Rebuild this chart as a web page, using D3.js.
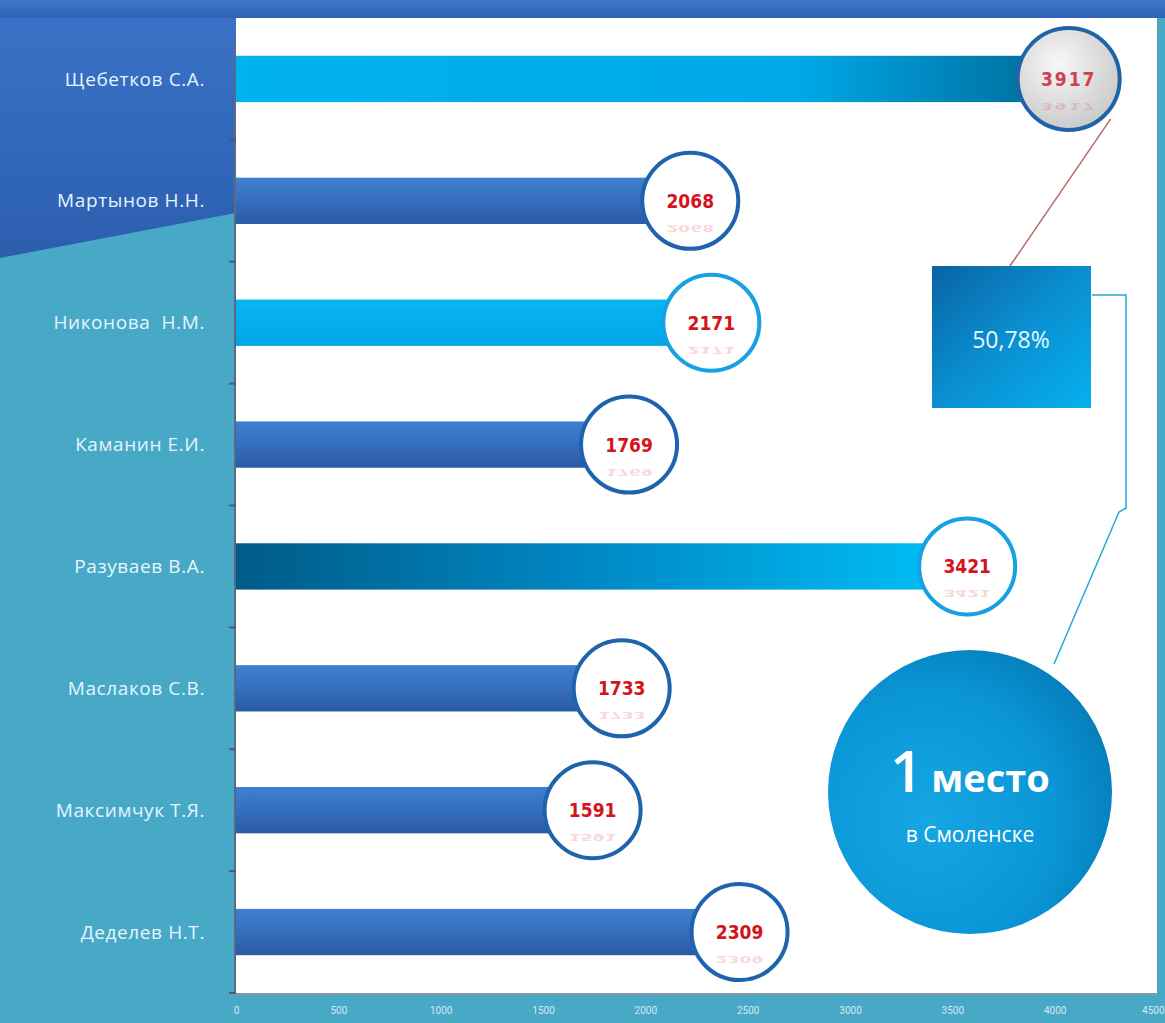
<!DOCTYPE html>
<html>
<head>
<meta charset="utf-8">
<script src="https://cdn.jsdelivr.net/npm/d3@7"></script>
<style>
  body { margin: 0; background: #47a9c6; }
  svg { display: block; }
</style>
</head>
<body>
<svg width="1165" height="1023"></svg>
<script>
// Data
const names = ['Щебетков С.А.', 'Мартынов Н.Н.', 'Никонова  Н.М.', 'Каманин Е.И.',
               'Разуваев В.А.', 'Маслаков С.В.', 'Максимчук Т.Я.', 'Деделев Н.Т.'];
const values = [3917, 2068, 2171, 1769, 3421, 1733, 1591, 2309];
const xTicks = [0, 500, 1000, 1500, 2000, 2500, 3000, 3500, 4000, 4500];
const shareText = '50,78%';

// Bar look, by row
const barKind = ['cyanDark', 'blue', 'cyan', 'blue', 'teal', 'blue', 'blue', 'blue'];

const svg = d3.select('svg');
const width = +svg.attr('width');
const height = +svg.attr('height');

const plot = { left: 236, right: 1157, top: 18, bottom: 993 };

const defs = svg.append('defs');

function linear(id, x2, y2, stops) {
    const gr = defs.append('linearGradient').attr('id', id)
        .attr('x1', 0).attr('y1', 0).attr('x2', x2).attr('y2', y2);
    stops.forEach(s => gr.append('stop').attr('offset', s[0]).attr('stop-color', s[1]));
}
linear('gBlue', 0, 1, [[0, '#3f80d0'], [0.5, '#356fbe'], [1, '#2a5aa3']]);
linear('gCyanDark', 1, 0, [[0, '#00b2ee'], [0.7, '#00a8e8'], [1, '#00709f']]);
linear('gCyan', 0, 1, [[0, '#0ab6f2'], [1, '#00a4e4']]);
linear('gTeal', 1, 0, [[0, '#005b88'], [0.5, '#0088c4'], [1, '#00bcf4']]);
linear('gBox', 1, 1, [[0, '#0a63a3'], [0.5, '#0a8fd0'], [1, '#06b0f0']]);
linear('gTop', 0, 1, [[0, '#3b78cc'], [1, '#2f62b2']]);
linear('gPanel', 0, 1, [[0, '#3a74c8'], [1, '#2c5eae']]);
const rg = defs.append('radialGradient').attr('id', 'gGrey').attr('cx', 0.4).attr('cy', 0.35).attr('r', 0.7);
rg.append('stop').attr('offset', 0).attr('stop-color', '#f7f7f7');
rg.append('stop').attr('offset', 1).attr('stop-color', '#c8c8c8');
const rb = defs.append('radialGradient').attr('id', 'gBig').attr('cx', 0.35).attr('cy', 0.6).attr('r', 0.75);
rb.append('stop').attr('offset', 0).attr('stop-color', '#16a6e4');
rb.append('stop').attr('offset', 0.6).attr('stop-color', '#0a96d6');
rb.append('stop').attr('offset', 1).attr('stop-color', '#0478b4');

const fills = { blue: 'url(#gBlue)', cyanDark: 'url(#gCyanDark)', cyan: 'url(#gCyan)', teal: 'url(#gTeal)' };
const rings = { blue: '#1f63ad', cyanDark: '#2064a8', cyan: '#16a2e2', teal: '#16a2e2' };

// Background pieces
svg.append('rect').attr('width', width).attr('height', height).attr('fill', '#47a9c6');
svg.append('path')
    .attr('d', `M0,0 H${plot.left} V213 L0,258 Z`)
    .attr('fill', 'url(#gPanel)');
svg.append('rect').attr('x', 0).attr('y', 0).attr('width', width).attr('height', plot.top)
    .attr('fill', 'url(#gTop)');
svg.append('rect')
    .attr('x', plot.left).attr('y', plot.top)
    .attr('width', plot.right - plot.left).attr('height', plot.bottom - plot.top)
    .attr('fill', '#ffffff');

// Scales
const xScale = d3.scaleLinear().domain([0, 4500]).range([plot.left, plot.right]);
const yScale = d3.scaleBand().domain(names).range([plot.top, plot.bottom])
    .paddingInner(0.62).paddingOuter(0.31);

// Axis lines and ticks
svg.append('line').attr('x1', plot.left - 1).attr('x2', plot.left - 1)
    .attr('y1', plot.top + 20).attr('y2', plot.bottom + 2)
    .attr('stroke', '#5a6a86').attr('stroke-width', 2);
svg.append('line').attr('x1', plot.left - 2).attr('x2', plot.right)
    .attr('y1', plot.bottom + 1).attr('y2', plot.bottom + 1)
    .attr('stroke', '#8a96a6').attr('stroke-width', 2);
const step = yScale.step();
svg.append('g').selectAll('line')
    .data(names)
    .enter()
    .append('line')
    .attr('x1', plot.left - 7).attr('x2', plot.left)
    .attr('y1', d => yScale(d) + yScale.bandwidth() + (step - yScale.bandwidth()) / 2)
    .attr('y2', d => yScale(d) + yScale.bandwidth() + (step - yScale.bandwidth()) / 2)
    .attr('stroke', '#4b5a78').attr('stroke-width', 2);

const xAxis = d3.axisBottom(xScale).tickValues(xTicks).tickFormat(d3.format('d'))
    .tickSize(0).tickPadding(14);
const xAxisGroup = svg.append('g')
    .attr('transform', `translate(0, ${plot.bottom})`)
    .call(xAxis);
xAxisGroup.select('.domain').remove();
xAxisGroup.selectAll('.tick text')
    .attr('fill', '#d6e8f0')
    .style('font-family', 'Roboto, sans-serif')
    .style('font-size', '10px');
// last label sits at the right edge, keep it inside the page
xAxisGroup.selectAll('.tick text')
    .filter(d => d === xTicks[xTicks.length - 1])
    .attr('text-anchor', 'end')
    .attr('dx', 7);

// Category labels
svg.append('g').selectAll('text')
    .data(names)
    .enter()
    .append('text')
    .attr('x', 205)
    .attr('y', d => yScale(d) + yScale.bandwidth() / 2)
    .attr('dy', '0.35em')
    .attr('text-anchor', 'end')
    .attr('fill', '#e6f4ff')
    .style('font-family', '"Open Sans", sans-serif')
    .style('font-size', '19px')
    .style('letter-spacing', '0.6px')
    .style('white-space', 'pre')
    .text(d => d);

// Bars
const rows = names.map((n, i) => ({ name: n, value: values[i], kind: barKind[i] }));
svg.append('g').selectAll('rect')
    .data(rows)
    .enter()
    .append('rect')
    .attr('x', plot.left)
    .attr('y', d => yScale(d.name))
    .attr('width', d => xScale(d.value) - plot.left)
    .attr('height', yScale.bandwidth())
    .attr('fill', d => fills[d.kind]);

// Callout lines (drawn under the circles)
const topRow = rows[0];
const cx0 = xScale(topRow.value) + 31;
svg.append('line')
    .attr('x1', cx0 + 42).attr('y1', yScale(topRow.name) + yScale.bandwidth() / 2 + 40)
    .attr('x2', 1010).attr('y2', 266)
    .attr('stroke', '#b46a6a').attr('stroke-width', 1.5);
svg.append('path')
    .attr('d', 'M1092,295 H1126 V508 L1119,512 L1054,664')
    .attr('fill', 'none').attr('stroke', '#2aa6d8').attr('stroke-width', 1.5);

// Value circles
const circles = svg.append('g').selectAll('g')
    .data(rows)
    .enter()
    .append('g')
    .attr('transform', d => `translate(${xScale(d.value) + 31}, ${yScale(d.name) + yScale.bandwidth() / 2})`);
circles.append('circle')
    .attr('r', (d, i) => i === 0 ? 51 : 48)
    .attr('fill', (d, i) => i === 0 ? 'url(#gGrey)' : '#ffffff')
    .attr('stroke', d => rings[d.kind])
    .attr('stroke-width', 4);
// faint reflection under each value
circles.append('text')
    .attr('transform', 'translate(0, 24) scale(1, -0.5)')
    .attr('text-anchor', 'middle')
    .attr('fill', '#e05050')
    .attr('opacity', 0.22)
    .style('font-family', '"Liberation Sans Narrow", "DejaVu Sans Condensed", sans-serif')
    .style('font-weight', 'bold')
    .style('font-size', '19px')
    .style('letter-spacing', (d, i) => i === 0 ? '2px' : '0px')
    .text(d => d.value);
circles.append('text')
    .attr('y', 7)
    .attr('text-anchor', 'middle')
    .attr('fill', (d, i) => i === 0 ? '#d04050' : '#d4141c')
    .style('font-family', '"Liberation Sans Narrow", "DejaVu Sans Condensed", sans-serif')
    .style('font-weight', 'bold')
    .style('font-size', '19px')
    .style('letter-spacing', (d, i) => i === 0 ? '2px' : '0px')
    .text(d => d.value);

// Share box
svg.append('rect')
    .attr('x', 932).attr('y', 266).attr('width', 159).attr('height', 142)
    .attr('fill', 'url(#gBox)');
svg.append('text')
    .attr('x', 1011).attr('y', 348)
    .attr('text-anchor', 'middle')
    .attr('fill', '#e8f6ff')
    .style('font-family', '"Open Sans", sans-serif')
    .style('font-size', '23px')
    .text(shareText);

// Big "1 место" circle
svg.append('circle')
    .attr('cx', 970).attr('cy', 792).attr('r', 142)
    .attr('fill', 'url(#gBig)');
const big = svg.append('text')
    .attr('x', 970).attr('y', 792)
    .attr('text-anchor', 'middle')
    .attr('fill', '#ffffff')
    .style('font-family', '"Open Sans", sans-serif')
    .style('font-weight', 'bold');
big.append('tspan').style('font-size', '58px').style('font-weight', '600').text('1');
big.append('tspan').style('font-size', '38px').attr('dx', 8).text('место');
svg.append('text')
    .attr('x', 970).attr('y', 842)
    .attr('text-anchor', 'middle')
    .attr('fill', '#ffffff')
    .style('font-family', '"Open Sans", sans-serif')
    .style('font-size', '21px')
    .text('в Смоленске');
</script>
</body>
</html>
